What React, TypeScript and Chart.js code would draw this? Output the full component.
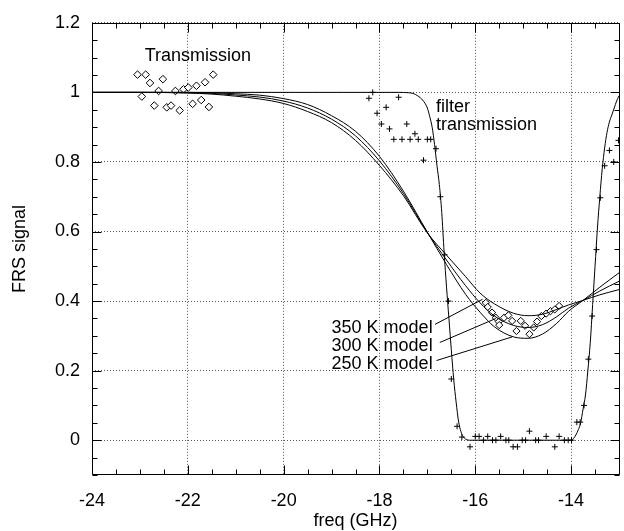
import React, { useEffect, useRef } from 'react';
import { Chart, registerables } from 'chart.js';

Chart.register(...registerables);

// ---- axis ticks ----
const xTickValues = [-24, -22, -20, -18, -16, -14];
const yTickValues = [0, 0.2, 0.4, 0.6, 0.8, 1, 1.2];

// ---- model curves (shared frequency grid) ----
const modelFreq = [-24, -23, -22, -21.5, -21, -20.5, -20, -19.5, -19, -18.5, -18, -17.5, -17, -16.6, -16.2, -15.9, -15.6, -15.2, -14.9, -14.6, -14.3, -14.05, -13.75, -13.4, -13.0];
const model250K = [1, 1, 1.0, 0.999, 0.996, 0.992, 0.982, 0.965, 0.933, 0.888, 0.816, 0.716, 0.598, 0.505, 0.419, 0.368, 0.326, 0.297, 0.293, 0.305, 0.336, 0.371, 0.402, 0.44, 0.481];
const model300K = [1, 1, 0.999, 0.997, 0.9925, 0.9865, 0.975, 0.955, 0.923, 0.875, 0.803, 0.7095, 0.597, 0.518, 0.444, 0.395, 0.357, 0.33, 0.324, 0.332, 0.355, 0.38, 0.402, 0.429, 0.457];
const model350K = [1, 1, 0.998, 0.995, 0.989, 0.981, 0.968, 0.945, 0.913, 0.862, 0.79, 0.703, 0.596, 0.532, 0.47, 0.423, 0.392, 0.365, 0.358, 0.362, 0.376, 0.389, 0.402, 0.418, 0.433];

// ---- filter transmission curve ----
const filterFreq = [-24, -17.6, -17.4, -17.3, -17.2, -17.1, -17.0, -16.95, -16.9, -16.85, -16.8, -16.75, -16.7, -16.65, -16.6, -16.55, -16.5, -16.45, -16.4, -16.35, -16.3, -16.25, -16.2, -16.1, -14.0, -13.95, -13.9, -13.85, -13.8, -13.75, -13.7, -13.65, -13.6, -13.55, -13.5, -13.45, -13.4, -13.35, -13.3, -13.25, -13.2, -13.15, -13.1, -13.05, -13.0];
const filterSignal = [1, 1, 0.999, 0.997, 0.99, 0.978, 0.955, 0.93, 0.9, 0.85, 0.79, 0.735, 0.655, 0.54, 0.44, 0.35, 0.26, 0.175, 0.11, 0.055, 0.025, 0.01, 0.003, 0, 0, 0.005, 0.015, 0.03, 0.05, 0.09, 0.13, 0.2, 0.28, 0.39, 0.5, 0.61, 0.7, 0.78, 0.84, 0.885, 0.915, 0.935, 0.955, 0.975, 0.99];

// ---- measured filter transmission (+) ----
const plusFreq = [-18.22, -18.14, -18.05, -17.96, -17.86, -17.79, -17.70, -17.60, -17.53, -17.43, -17.36, -17.26, -17.19, -17.08, -17.00, -16.93, -16.82, -16.73, -16.64, -16.56, -16.50, -16.38, -16.28, -16.11, -16.00, -15.92, -15.83, -15.74, -15.64, -15.57, -15.47, -15.36, -15.30, -15.21, -15.12, -15.02, -14.95, -14.87, -14.74, -14.68, -14.52, -14.34, -14.25, -14.14, -14.06, -13.99, -13.88, -13.81, -13.73, -13.64, -13.56, -13.47, -13.39, -13.30, -13.20, -13.11, -13.01];
const plusSignal = [0.983, 1.0, 0.94, 0.909, 0.957, 0.895, 0.865, 0.986, 0.865, 0.909, 0.865, 0.881, 0.865, 0.805, 0.865, 0.865, 0.838, 0.70, 0.533, 0.40, 0.176, 0.04, 0.009, -0.019, 0.011, 0.011, 0.0, 0.011, 0.0, 0.0, 0.011, 0.0, 0.0, -0.019, -0.019, 0.0, 0.0, 0.026, 0.0, 0.0, 0.011, -0.019, 0.011, 0.0, 0.0, 0.0, 0.052, 0.052, 0.10, 0.233, 0.357, 0.548, 0.697, 0.789, 0.833, 0.80, 0.862];

// ---- measured "Transmission" (diamonds, top left) ----
const transFreq = [-23.05, -22.96, -22.88, -22.79, -22.70, -22.61, -22.52, -22.44, -22.35, -22.26, -22.17, -22.09, -21.99, -21.90, -21.82, -21.72, -21.64, -21.56, -21.47];
const transSignal = [1.051, 0.988, 1.051, 1.027, 0.962, 1.004, 1.038, 0.957, 0.962, 1.004, 0.948, 1.009, 1.014, 0.967, 1.019, 0.978, 1.029, 0.958, 1.051];

// ---- measured FRS signal (diamonds, in the notch) ----
const frsFreq = [-15.78, -15.74, -15.65, -15.57, -15.51, -15.50, -15.40, -15.31, -15.23, -15.14, -15.05, -14.96, -14.87, -14.78, -14.71, -14.62, -14.52, -14.43, -14.34, -14.25];
const frsSignal = [0.395, 0.383, 0.367, 0.352, 0.341, 0.331, 0.352, 0.359, 0.343, 0.314, 0.343, 0.329, 0.305, 0.324, 0.341, 0.357, 0.364, 0.371, 0.376, 0.386];

// ---- annotation texts ----
const noteTexts = ['Transmission', 'filter', 'transmission', '350 K model', '300 K model', '250 K model'];
const noteFreq = [-21.79, -16.82, -16.82, -16.89, -16.89, -16.89];
const noteSignal = [1.091, 0.943, 0.891, 0.309, 0.257, 0.205];
const noteAlign: CanvasTextAlign[] = ['center', 'left', 'left', 'right', 'right', 'right'];

// ---- leader lines from model labels to curves ----
const leaderFreq = [[-16.84, -15.85], [-16.74, -15.57], [-16.81, -15.23]];
const leaderSignal = [[0.333, 0.405], [0.281, 0.350], [0.229, 0.297]];

const FONT_FAMILY = '"Liberation Sans", Arial, Helvetica, sans-serif';

const pts = (xs: number[], ys: number[]) => xs.map((x, i) => ({ x, y: ys[i] }));

const decorPlugin = {
  id: 'decor',
  afterDraw(chart: any) {
    const { ctx, chartArea, scales } = chart;
    const { left, right, top, bottom } = chartArea;
    const xs = scales.x;
    const ys = scales.y;
    ctx.save();
    ctx.strokeStyle = '#000';
    ctx.lineWidth = 1;
    const L = Math.round(left) + 0.5;
    const R = Math.round(right) + 0.5;
    const T = Math.round(top) + 0.5;
    const B = Math.round(bottom) - 0.5;
    ctx.beginPath();
    ctx.moveTo(L, T); ctx.lineTo(R, T); ctx.lineTo(R, B); ctx.lineTo(L, B); ctx.closePath();
    ctx.stroke();
    // x ticks (inward), every 0.5 GHz
    ctx.beginPath();
    for (let i = 0; i <= 22; i++) {
      const v = -24 + i * 0.5;
      const major = xTickValues.includes(v);
      const len = major ? 9 : 5;
      const px = Math.round(xs.getPixelForValue(v)) + 0.5;
      ctx.moveTo(px, B); ctx.lineTo(px, B - len);
      ctx.moveTo(px, T); ctx.lineTo(px, T + len);
    }
    // y ticks (inward), every 0.05
    for (let i = 0; i <= 26; i++) {
      const v = Math.round((-0.1 + i * 0.05) * 100) / 100;
      const major = yTickValues.some((t) => Math.abs(t - v) < 1e-6);
      const len = major ? 9 : 5;
      const py = Math.round(ys.getPixelForValue(v)) + 0.5;
      ctx.moveTo(L, py); ctx.lineTo(L + len, py);
      ctx.moveTo(R, py); ctx.lineTo(R - len, py);
    }
    ctx.stroke();
    // annotation texts
    ctx.fillStyle = '#000';
    ctx.font = `18px ${FONT_FAMILY}`;
    ctx.textBaseline = 'alphabetic';
    noteTexts.forEach((t, i) => {
      ctx.textAlign = noteAlign[i];
      ctx.fillText(t, xs.getPixelForValue(noteFreq[i]), ys.getPixelForValue(noteSignal[i]));
    });
    ctx.restore();
  },
};

export default function App() {
  const canvasRef = useRef<HTMLCanvasElement | null>(null);

  useEffect(() => {
    if (!canvasRef.current) return;
    const font = { family: FONT_FAMILY, size: 18 };
    const lineDs = (data: any[]) => ({
      data,
      showLine: true,
      borderColor: '#000',
      borderWidth: 1,
      pointRadius: 0,
      fill: false,
      cubicInterpolationMode: 'monotone' as const,
    });
    const chart = new Chart(canvasRef.current, {
      type: 'scatter',
      data: {
        datasets: [
          { ...lineDs(pts(modelFreq, model250K)), label: '250 K model' },
          { ...lineDs(pts(modelFreq, model300K)), label: '300 K model' },
          { ...lineDs(pts(modelFreq, model350K)), label: '350 K model' },
          { ...lineDs(pts(filterFreq, filterSignal)), label: 'filter transmission' },
          ...leaderFreq.map((lf, i) => ({ ...lineDs(pts(lf, leaderSignal[i])), tension: 0, cubicInterpolationMode: 'default' as const, label: 'leader' + i })),
          {
            label: 'filter data',
            data: pts(plusFreq, plusSignal),
            pointStyle: 'cross',
            pointRadius: 3,
            borderColor: '#000',
            borderWidth: 1,
            showLine: false,
          },
          {
            label: 'Transmission',
            data: pts(transFreq, transSignal),
            pointStyle: 'rectRot',
            pointRadius: 3.8,
            borderColor: '#000',
            backgroundColor: '#fff',
            borderWidth: 1,
            showLine: false,
          },
          {
            label: 'FRS data',
            data: pts(frsFreq, frsSignal),
            pointStyle: 'rectRot',
            pointRadius: 3.6,
            borderColor: '#000',
            backgroundColor: '#fff',
            borderWidth: 1,
            showLine: false,
          },
        ],
      },
      options: {
        animation: false,
        responsive: false,
        events: [],
        layout: { padding: { left: 0, right: 0, top: 20, bottom: 0 } },
        plugins: { legend: { display: false }, tooltip: { enabled: false } },
        scales: {
          x: {
            type: 'linear',
            min: -24,
            max: -13,
            afterBuildTicks: (s: any) => { s.ticks = xTickValues.map((v) => ({ value: v })); },
            afterFit: (s: any) => { s.height = 56; },
            ticks: { font, color: '#000', padding: 15, autoSkip: false, maxRotation: 0, callback: (v: any) => String(v) },
            grid: { color: '#555', lineWidth: 1, drawTicks: false },
            border: { display: false, dash: [1, 2] },
            title: { display: true, text: 'freq (GHz)', color: '#000', font: { ...font, lineHeight: 1 }, padding: { top: 0, bottom: 1 } },
          },
          y: {
            type: 'linear',
            min: -0.1,
            max: 1.2,
            afterBuildTicks: (s: any) => { s.ticks = yTickValues.map((v) => ({ value: v })); },
            afterFit: (s: any) => { s.width = 92; },
            ticks: { font, color: '#000', padding: 12, autoSkip: false, callback: (v: any) => String(v) },
            grid: { color: '#555', lineWidth: 1, drawTicks: false },
            border: { display: false, dash: [1, 2] },
            title: { display: true, text: 'FRS signal', color: '#000', font: { ...font, lineHeight: 1 }, padding: { top: 11, bottom: 0 } },
          },
        },
      },
      plugins: [decorPlugin],
    });
    return () => chart.destroy();
  }, []);

  return (
    <div style={{ position: 'absolute', left: 0, top: 0, width: 624, height: 531, background: '#fff' }}>
      <canvas ref={canvasRef} width={624} height={531} style={{ display: 'block', width: 624, height: 531 }} />
    </div>
  );
}
